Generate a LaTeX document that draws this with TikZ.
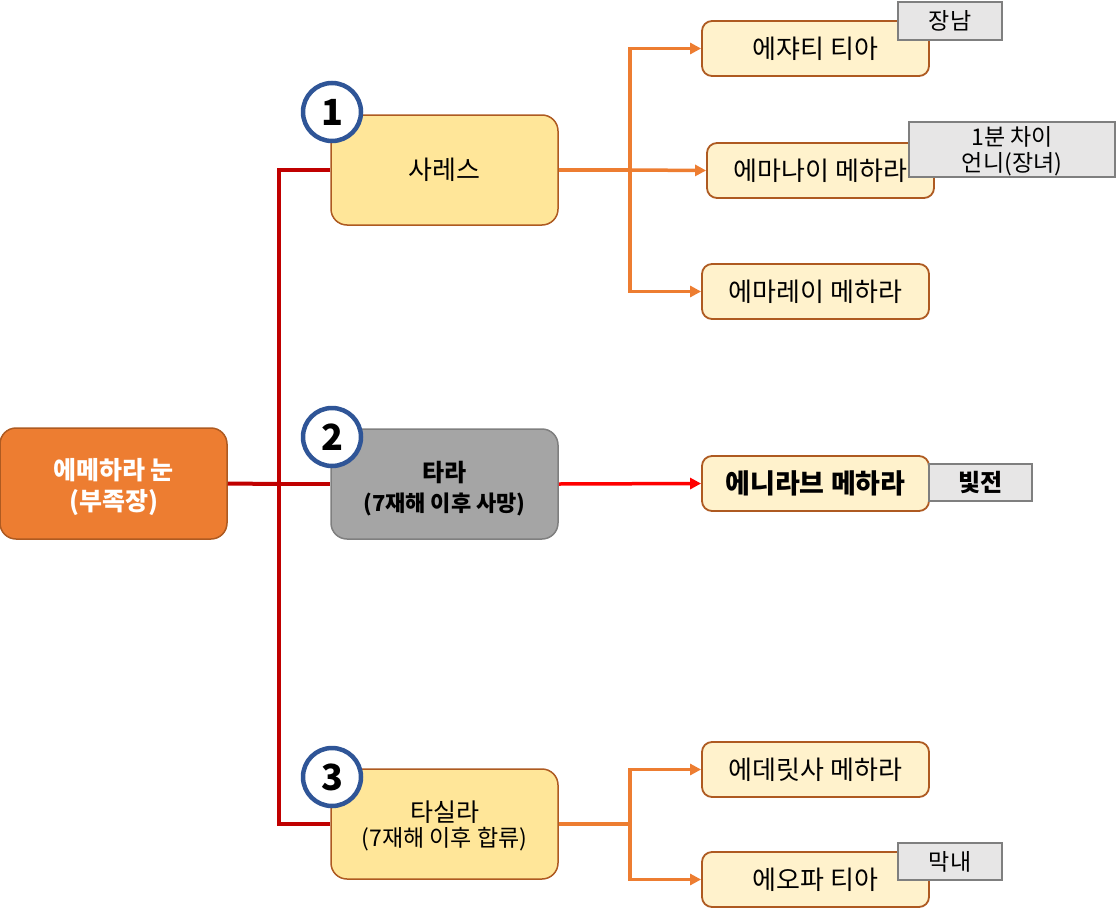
\documentclass[tikz,border=0pt]{standalone}
\usepackage{fontspec}
\setmainfont{Noto Sans CJK KR}
\usetikzlibrary{arrows.meta}
\definecolor{rootfill}{HTML}{ED7D31}
\definecolor{boxdraw}{HTML}{AE5A21}
\definecolor{midfill}{HTML}{FFE699}
\definecolor{leaffill}{HTML}{FFF2CC}
\definecolor{grayfill}{HTML}{A5A5A5}
\definecolor{graydraw}{HTML}{7F7F7F}
\definecolor{tagfill}{HTML}{E7E6E6}
\definecolor{circdraw}{HTML}{2F5597}
\definecolor{darkred}{HTML}{C00000}
\definecolor{brightred}{HTML}{FF0000}
\definecolor{orangeline}{HTML}{ED7D31}
% two-line text block, lowered by #1 without changing its reported size
\newcommand{\mytwolines}[3]{\raisebox{#1}[\height][\depth]{\begin{tabular}{@{}c@{}}#2\\#3\end{tabular}}}
\tikzset{
  rootbox/.style={draw=boxdraw, fill=rootfill, line width=1.5pt, rounded corners=16pt, minimum width=227pt, minimum height=111pt, text=white, inner sep=0pt},
  midbox/.style={draw=boxdraw, fill=midfill, line width=1.5pt, rounded corners=16pt, minimum width=227pt, minimum height=110pt, inner sep=0pt},
  graybox/.style={draw=graydraw, fill=grayfill, line width=1.5pt, rounded corners=16pt, minimum width=227pt, minimum height=110pt, inner sep=0pt},
  leafbox/.style={draw=boxdraw, fill=leaffill, line width=1.8pt, rounded corners=10pt, minimum width=227pt, minimum height=55pt, inner sep=0pt, font=\fontsize{26}{30}\selectfont},
  tagbox/.style={draw=graydraw, fill=tagfill, line width=2pt, inner sep=0pt, font=\fontsize{23}{26}\selectfont},
  numcirc/.style={circle, draw=circdraw, fill=white, line width=4.5pt, minimum size=58pt, inner sep=0pt, font=\bfseries\fontsize{36}{40}\selectfont},
  trunk/.style={draw=darkred, line width=4pt},
  obranch/.style={draw=orangeline, line width=3.5pt},
  oarrow/.style={draw=orangeline, line width=3.5pt, -{Triangle[length=11pt,width=11pt]}},
  rarrow/.style={draw=brightred, line width=3.5pt, -{Triangle[length=11pt,width=11pt]}},
}
\begin{document}
\begin{tikzpicture}[x=1pt,y=-1pt]
\useasboundingbox (0,0) rectangle (1116,910);
% main boxes
\node[rootbox, font=\bfseries\fontsize{25}{31}\selectfont] (root) at (113.5,483.5) {\mytwolines{-5pt}{에메하라 눈}{(부족장)}};
\node[midbox, font=\fontsize{26}{30}\selectfont] (n1) at (444.5,170) {사레스};
\node[graybox, font=\bfseries\fontsize{22}{30}\selectfont] (n2) at (444.5,484) {\mytwolines{-6pt}{\fontsize{24}{30}\selectfont 타라}{(7재해 이후 사망)}};
\node[midbox, font=\fontsize{23}{22}\selectfont] (n3) at (444.5,824) {\mytwolines{-3pt}{\fontsize{25}{22}\selectfont 타실라}{(7재해 이후 합류)}};
% leaves
\node[leafbox] (l1) at (815.5,48.5) {에쟈티 티아};
\node[leafbox] (l2) at (820.5,170.5) {에마나이 메하라};
\node[leafbox] (l3) at (815.5,291.5) {에마레이 메하라};
\node[leafbox, font=\bfseries\fontsize{27}{30}\selectfont] (l4) at (815.5,483.5) {에니라브 메하라};
\node[leafbox] (l5) at (815.5,769.5) {에데릿사 메하라};
\node[leafbox] (l6) at (815.5,879.5) {에오파 티아};
% tags
\node[tagbox, minimum width=104pt, minimum height=38pt] (t1) at (950,21) {장남};
\node[tagbox, minimum width=206pt, minimum height=55pt, font=\fontsize{23}{22}\selectfont] (t2) at (1012,149.5) {\mytwolines{-3pt}{1분 차이}{언니(장녀)}};
\node[tagbox, minimum width=103pt, minimum height=37pt, font=\bfseries\fontsize{24}{26}\selectfont] (t3) at (980.5,482.5) {빛전};
\node[tagbox, minimum width=104pt, minimum height=37pt] (t4) at (950,861.5) {막내};
% junction coordinates
\coordinate (tr) at (279,484);
\coordinate (j1) at (630,170);
\coordinate (j3) at (630,824);
% red trunk
\draw[trunk] (root.east) -- (tr);
\draw[trunk] (n1.west) -| (tr);
\draw[trunk] (n3.west) -| (tr);
\draw[trunk] (tr) -- (n2.west);
% orange branches
\draw[obranch] (n1.east) -- (j1);
\draw[oarrow] (j1) |- (l1.west);
\draw[oarrow] (j1) -- (l2.west);
\draw[oarrow] (j1) |- (l3.west);
\draw[rarrow] (n2.east) -- (l4.west);
\draw[obranch] (n3.east) -- (j3);
\draw[oarrow] (j3) |- (l5.west);
\draw[oarrow] (j3) |- (l6.west);
% number circles
\node[numcirc] (c1) at (332,112) {1};
\node[numcirc] (c2) at (332,437) {2};
\node[numcirc] (c3) at (332,777) {3};
\end{tikzpicture}
\end{document}
